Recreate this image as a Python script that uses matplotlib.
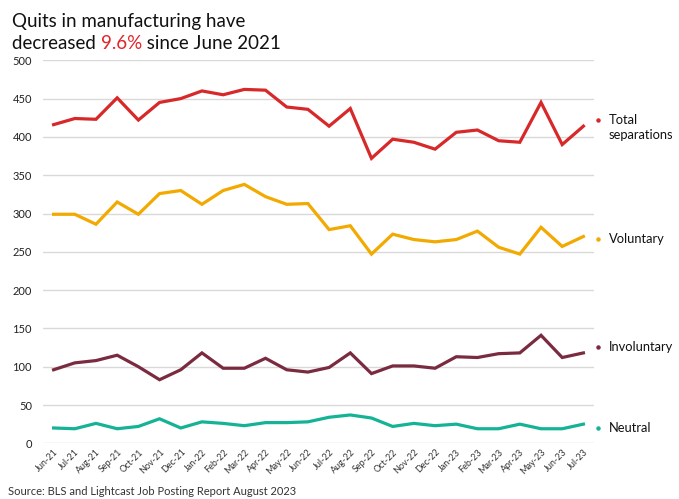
import matplotlib
matplotlib.use("Agg")
import matplotlib.pyplot as plt

months = ["Jun-21", "Jul-21", "Aug-21", "Sep-21", "Oct-21", "Nov-21", "Dec-21",
          "Jan-22", "Feb-22", "Mar-22", "Apr-22", "May-22", "Jun-22", "Jul-22",
          "Aug-22", "Sep-22", "Oct-22", "Nov-22", "Dec-22", "Jan-23", "Feb-23",
          "Mar-23", "Apr-23", "May-23", "Jun-23", "Jul-23"]
total = [416, 424, 423, 451, 422, 445, 450, 460, 455, 462, 461, 439, 436, 414,
         437, 372, 397, 393, 384, 406, 409, 395, 393, 445, 390, 414]
voluntary = [299, 299, 286, 315, 299, 326, 330, 312, 330, 338, 322, 312, 313, 279,
             284, 247, 273, 266, 263, 266, 277, 256, 247, 282, 257, 270]
involuntary = [96, 105, 108, 115, 100, 83, 96, 118, 98, 98, 111, 96, 93, 99,
               118, 91, 101, 101, 98, 113, 112, 117, 118, 141, 112, 118]
neutral = [20, 19, 26, 19, 22, 32, 20, 28, 26, 23, 27, 27, 28, 34,
           37, 33, 22, 26, 23, 25, 19, 19, 25, 19, 19, 25]
series_names = ["Total\nseparations", "Voluntary", "Involuntary", "Neutral"]
label_y = [422, 267, 126, 20]
colors = ["#d7282a", "#f2a900", "#7a2b3f", "#15b396"]

plt.rcParams['font.family'] = ['Lato', 'DejaVu Sans']

fig = plt.figure(figsize=(6.79, 4.99), dpi=100)
ax = fig.add_axes([43 / 679, 1 - 443.3 / 499, (594 - 43) / 679, (443.3 - 60.3) / 499])

x = list(range(len(months)))
for vals, c in zip([total, voluntary, involuntary, neutral], colors):
    ax.plot(x, vals, color=c, lw=2.3, solid_joinstyle='miter', zorder=3)

ax.set_xlim(-0.5, len(months) - 0.5)
ax.set_ylim(0, 500)
ax.set_yticks(range(0, 501, 50))
ax.set_xticks(x)
ax.set_xticklabels(months, rotation=45, ha='right', rotation_mode='anchor',
                   fontsize=6.5, color='#333333')
ax.tick_params(axis='y', labelsize=8, colors='#222222', length=0, pad=8)
ax.tick_params(axis='x', length=0, pad=3)
ax.grid(axis='y', color='#d9d9d9', lw=1)
ax.set_axisbelow(True)
for s in ax.spines.values():
    s.set_visible(False)

for name, ly, c in zip(series_names, label_y, colors):
    ax.plot([25.7], [ly], marker='o', ms=2.2, color=c, clip_on=False)
    if '\n' in name:
        ax.text(26.2, ly + 8, name, fontsize=9.3, color='#111111', va='top', ha='left',
                clip_on=False, linespacing=1.3)
    else:
        ax.text(26.2, ly, name, fontsize=9.3, color='#111111', va='center', ha='left',
                clip_on=False)

fs = 13.5
fig.text(12 / 679, 1 - 27 / 499, "Quits in manufacturing have", fontsize=fs,
         color='#111111', ha='left', va='baseline')
t1 = fig.text(12 / 679, 1 - 49 / 499, "decreased ", fontsize=fs, color='#111111',
              ha='left', va='baseline')
fig.canvas.draw()
r = fig.canvas.get_renderer()
bb = t1.get_window_extent(r)
t2 = fig.text(bb.x1 / fig.bbox.width, 1 - 49 / 499, "9.6%", fontsize=fs, color='#e0262a',
              ha='left', va='baseline')
bb2 = t2.get_window_extent(r)
fig.text(bb2.x1 / fig.bbox.width, 1 - 49 / 499, " since June 2021", fontsize=fs,
         color='#111111', ha='left', va='baseline')

fig.text(8 / 679, 1 - 495 / 499, "Source: BLS and Lightcast Job Posting Report August 2023",
         fontsize=8, color='#333333', ha='left', va='baseline')

fig.savefig("out.png", dpi=100)
